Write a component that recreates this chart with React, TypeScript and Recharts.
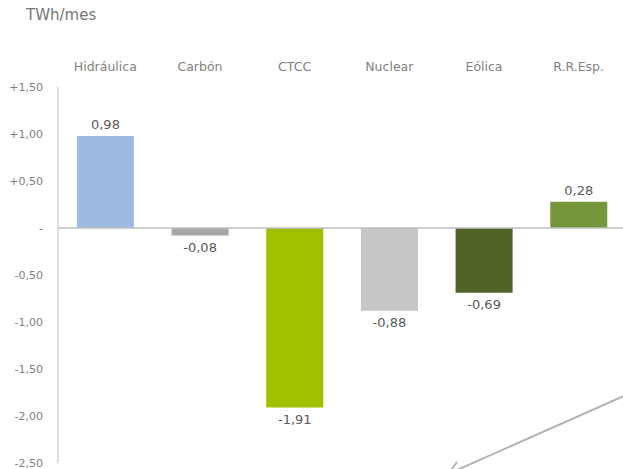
import { BarChart, Bar, XAxis, YAxis, ReferenceLine, LabelList, Cell } from 'recharts';

const categories = ['Hidráulica', 'Carbón', 'CTCC', 'Nuclear', 'Eólica', 'R.R.Esp.'];
const variation = [0.98, -0.08, -1.91, -0.88, -0.69, 0.28];
const barColors = ['#9dbbe1', '#a6a6a6', '#a3c000', '#c6c6c6', '#4f6228', '#77973d'];
const yTicks = [1.5, 1, 0.5, 0, -0.5, -1, -1.5, -2, -2.5];

const data = categories.map((name, i) => ({ name, value: variation[i] }));

const FONT = '"DejaVu Sans", Verdana, sans-serif';

const fmtTick = (v: number) => (v === 0 ? '-' : (v > 0 ? '+' : '') + v.toFixed(2).replace('.', ','));
const fmtValue = (v: number) => v.toFixed(2).replace('.', ',');

export default function App() {
  return (
    <div
      style={{
        position: 'fixed',
        left: 0,
        top: 0,
        width: 623,
        height: 469,
        overflow: 'hidden',
        background: '#fff',
        fontFamily: FONT,
      }}
    >
      <div style={{ position: 'absolute', left: 26, top: 6, fontSize: 15, color: '#767676' }}>TWh/mes</div>
      <BarChart
        width={640}
        height={476}
        data={data}
        margin={{ top: 40, right: 14, bottom: 13, left: 0 }}
        barCategoryGap="20%"
        style={{ fontFamily: FONT }}
      >
        <XAxis
          dataKey="name"
          orientation="top"
          height={47}
          axisLine={false}
          tickLine={false}
          tickMargin={10}
          interval={0}
          tick={{ fill: '#7f7f7f', fontSize: 12.5 }}
        />
        <YAxis
          type="number"
          domain={[-2.5, 1.5]}
          ticks={yTicks}
          width={58}
          interval={0}
          axisLine={{ stroke: '#bfbfbf' }}
          tickLine={false}
          tickMargin={9}
          tickFormatter={fmtTick}
          tick={{ fill: '#7f7f7f', fontSize: 11 }}
        />
        <ReferenceLine y={0} stroke="#bfbfbf" strokeWidth={1.5} />
        <Bar dataKey="value" isAnimationActive={false}>
          {data.map((d, i) => (
            <Cell key={d.name} fill={barColors[i]} />
          ))}
          <LabelList
            dataKey="value"
            position="top"
            offset={7}
            formatter={(v: any) => fmtValue(Number(v))}
            style={{ fill: '#595959', fontSize: 13 }}
          />
        </Bar>
      </BarChart>
      <svg
        width={623}
        height={469}
        style={{ position: 'absolute', left: 0, top: 0, pointerEvents: 'none' }}
      >
        <line x1={660} y1={380} x2={448} y2={474} stroke="#b3b3b3" strokeWidth={2} />
        <line x1={451} y1={470} x2={457} y2={462} stroke="#b3b3b3" strokeWidth={2} />
      </svg>
    </div>
  );
}
